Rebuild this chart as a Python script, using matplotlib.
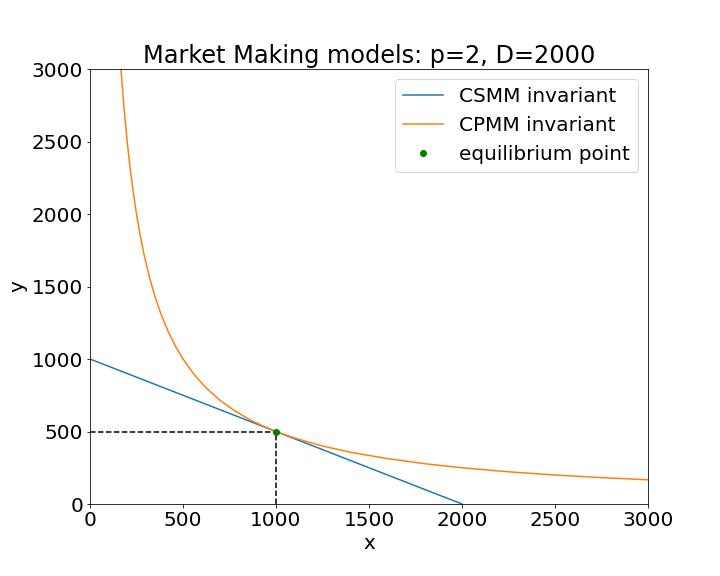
import numpy as np
import matplotlib.pyplot as plt

# values
csmm_x = [0, 2000]
csmm_y = [1000, 0]

cpmm_x = [150, 160, 167, 175, 185, 200, 215, 230, 250, 270, 290, 320, 350, 380, 420, 460, 500,
          560, 620, 700, 780, 860, 940, 1000, 1100, 1250, 1400, 1600, 1800, 2000, 2250, 2500,
          2750, 3000]
cpmm_y = [3333, 3125, 2994, 2857, 2703, 2500, 2326, 2174, 2000, 1852, 1724, 1563, 1429, 1316,
          1190, 1087, 1000, 893, 806, 714, 641, 581, 532, 500, 455, 400, 357, 313, 278, 250,
          222, 200, 182, 167]

eq_x = 1000
eq_y = 500

plt.rcParams['font.size'] = 20
fig, ax = plt.subplots(figsize=(10, 8), dpi=72)
fig.subplots_adjust(left=0.125, right=0.9, top=0.88, bottom=0.125)

ax.plot(csmm_x, csmm_y, color='#1f77b4', label='CSMM invariant')
ax.plot(cpmm_x, cpmm_y, color='#ff7f0e', label='CPMM invariant')
ax.plot([0, eq_x], [eq_y, eq_y], 'k--')
ax.plot([eq_x, eq_x], [0, eq_y], 'k--')
ax.plot(eq_x, eq_y, 'o', color='green', markersize=6, label='equilibrium point')

ax.set_xlim(0, 3000)
ax.set_ylim(0, 3000)
ax.set_xticks(np.arange(0, 3001, 500))
ax.set_yticks(np.arange(0, 3001, 500))
ax.set_xlabel('x')
ax.set_ylabel('y')
ax.set_title('Market Making models: p=2, D=2000', fontsize=24)
ax.legend(loc='upper right')

plt.savefig('out.png', dpi=72)
